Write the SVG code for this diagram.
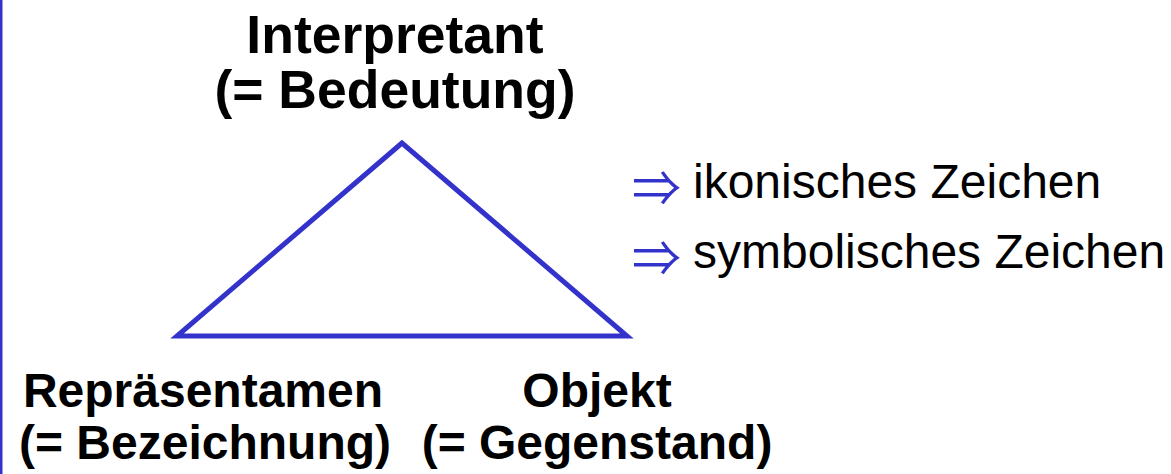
<svg xmlns="http://www.w3.org/2000/svg" width="1171" height="474" viewBox="0 0 1171 474">
<style>
.lbl{font-family:"Liberation Sans",Arial,sans-serif;font-weight:bold;fill:#000;text-anchor:middle}
.top{font-size:53.5px}
.bot{font-size:48px}
.item{font-family:"Liberation Sans",Arial,sans-serif;font-size:48px;fill:#000}
.arr{font-family:"Noto Sans CJK JP","DejaVu Sans",sans-serif;font-size:49px;fill:#3333cc}
</style>
<rect x="0" y="0" width="1171" height="474" fill="#fff"/>
<rect x="0" y="0" width="2.5" height="474" fill="#3333cc"/>
<g id="connectors">
<polygon points="402,143 177,336 627,336" fill="none" stroke="#3333cc" stroke-width="5" stroke-linejoin="miter"/>
</g>
<g id="node-interpretant">
<text class="lbl top" x="395" y="53">Interpretant</text>
<text class="lbl top" x="395" y="108">(= Bedeutung)</text>
</g>
<g id="node-repraesentamen">
<text class="lbl bot" x="203" y="407">Repräsentamen</text>
<text class="lbl bot" x="205" y="459">(= Bezeichnung)</text>
</g>
<g id="node-objekt">
<text class="lbl bot" x="597" y="407">Objekt</text>
<text class="lbl bot" x="597" y="459">(= Gegenstand)</text>
</g>
<g id="notes">
<text class="arr" x="632" y="206">⇒</text>
<text class="item" x="693" y="198">ikonisches Zeichen</text>
<text class="arr" x="632" y="276">⇒</text>
<text class="item" x="693" y="268">symbolisches Zeichen</text>
</g>
</svg>
